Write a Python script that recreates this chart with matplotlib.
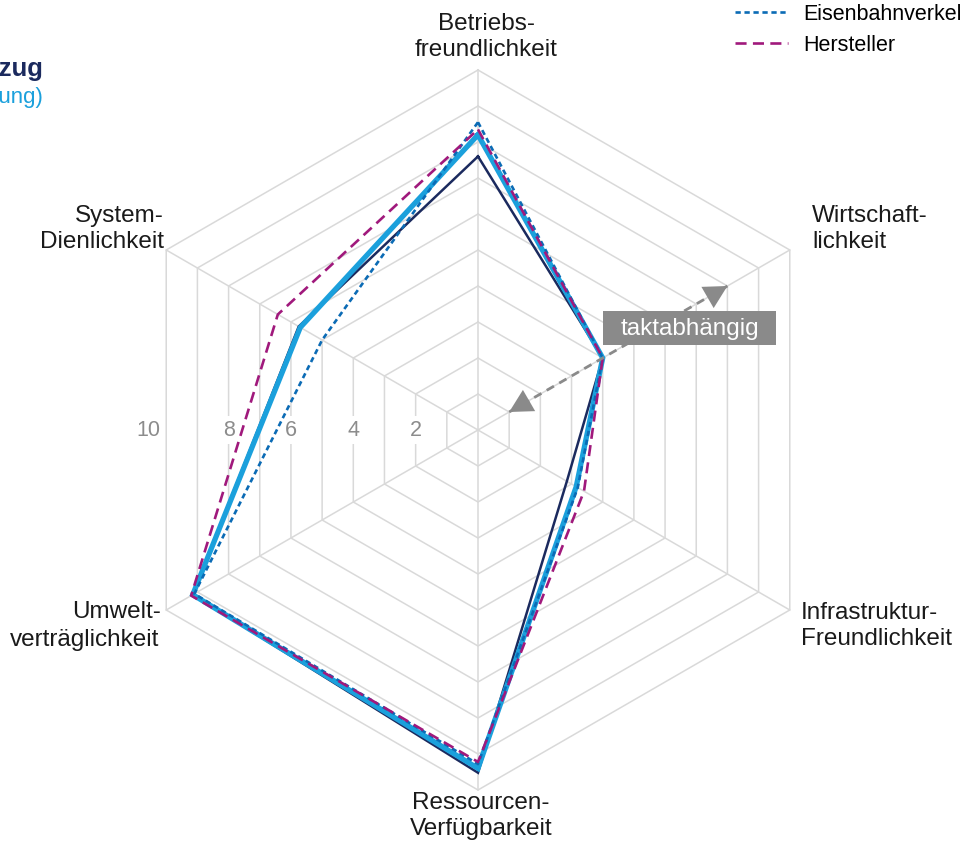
import numpy as np
import matplotlib
matplotlib.use("Agg")
import matplotlib.pyplot as plt
from matplotlib.lines import Line2D
from matplotlib.patches import Rectangle

plt.rcParams['font.family'] = ['Liberation Sans', 'DejaVu Sans']

# ---------------- data ----------------
categories = ["Betriebs-\nfreundlichkeit", "Wirtschaft-\nlichkeit",
              "Infrastruktur-\nFreundlichkeit", "Ressourcen-\nVerfügbarkeit",
              "Umwelt-\nverträglichkeit", "System-\nDienlichkeit"]
angles_deg = [90, 30, -30, -90, -150, 150]

gesamt_navy = [7.6, 4.0, 2.85, 9.52, 9.15, 5.75]
gesamt_cyan = [8.2, 4.0, 3.15, 9.4, 9.15, 5.7]
eisenbahn = [8.55, 4.0, 3.2, 9.28, 9.1, 5.0]
hersteller = [8.35, 4.0, 3.4, 9.22, 9.2, 6.42]

ring_values = [1, 2, 3, 4, 5, 6, 7, 8, 9, 10]
tick_values = [2, 4, 6, 8, 10]
tick_labels = ["2", "4", "6", "8", "10"]

legend_labels = ["Eisenbahnverkehrsunternehmen", "Hersteller"]
title_text = "Wasserstoffzug"
subtitle_text = "(Gesamtbewertung)"
arrow_label = "taktabhängig"
arrow_range = [1.0, 8.0]

# ---------------- layout ----------------
W, H = 960, 844
CX, CY = 478, 430          # centre in pixels (from top)
UNIT = 36.0                # pixels per value unit

fig = plt.figure(figsize=(W / 100, H / 100), dpi=100)
ax = fig.add_axes([0, 0, 1, 1])
ax.set_xlim(-CX / UNIT, (W - CX) / UNIT)
ax.set_ylim(-(H - CY) / UNIT, CY / UNIT)
ax.axis('off')


def px(x, y):
    """pixel (from top-left) -> data coords"""
    return (x - CX) / UNIT, (CY - y) / UNIT


theta = np.deg2rad(angles_deg)


def polar_xy(vals):
    v = np.asarray(vals, dtype=float)
    x = v * np.cos(theta)
    y = v * np.sin(theta)
    return np.append(x, x[0]), np.append(y, y[0])


grid_c = '#d9d9d9'
# rings
for r in ring_values:
    gx, gy = polar_xy([r] * len(theta))
    ax.plot(gx, gy, color=grid_c, lw=1.1, zorder=1)
# spokes
for t in theta:
    ax.plot([0, 10 * np.cos(t)], [0, 10 * np.sin(t)], color=grid_c, lw=1.1, zorder=1)

# tick labels along left horizontal
for v, lab in zip(tick_values, tick_labels):
    x = -v * np.cos(np.deg2rad(30))
    if v == 10:
        ax.text(x - 0.15, 0, lab, ha='right', va='center', fontsize=15.5,
                color='#8c8c8c', zorder=2,
                bbox=dict(boxstyle='square,pad=0.1', fc='white', ec='none'))
    else:
        ax.text(x, 0, lab, ha='center', va='center', fontsize=15.5,
                color='#8c8c8c', zorder=2,
                bbox=dict(boxstyle='square,pad=0.15', fc='white', ec='none'))

# series
navy_c = '#1b2a5e'
cyan_c = '#1ba0dc'
blue_c = '#0b6bb5'
purple_c = '#a0197c'

x, y = polar_xy(gesamt_navy)
ax.plot(x, y, color=navy_c, lw=1.8, zorder=3, solid_joinstyle='miter')
x, y = polar_xy(gesamt_cyan)
ax.plot(x, y, color=cyan_c, lw=3.8, zorder=4, solid_joinstyle='miter')
x, y = polar_xy(eisenbahn)
l_eis, = ax.plot(x, y, color=blue_c, lw=1.9, ls=(0, (2.0, 1.4)), zorder=5)
x, y = polar_xy(hersteller)
l_her, = ax.plot(x, y, color=purple_c, lw=1.9, ls=(0, (4.2, 2.4)), zorder=6)

# arrow annotation along "Wirtschaftlichkeit" axis
ta = np.deg2rad(30)
p0 = (arrow_range[0] * np.cos(ta), arrow_range[0] * np.sin(ta))
p1 = (arrow_range[1] * np.cos(ta), arrow_range[1] * np.sin(ta))
arrow_c = '#8a8a8a'
ax.plot([p0[0], p1[0]], [p0[1], p1[1]], color=arrow_c, lw=2, ls=(0, (3, 2.2)), zorder=7)
for a, b in [(p0, p1), (p1, p0)]:
    d = np.array(b) - np.array(a)
    d = d / np.linalg.norm(d)
    start = np.array(b) - d * 0.4
    ax.annotate('', xy=b, xytext=tuple(start),
                arrowprops=dict(arrowstyle='-|>,head_length=0.75,head_width=0.4',
                                color=arrow_c, lw=0.01, shrinkA=0, shrinkB=0,
                                mutation_scale=22), zorder=7)

bx0, by0 = px(603, 345)
bx1, by1 = px(776, 311)
ax.add_patch(Rectangle((bx0, by0), bx1 - bx0, by1 - by0, fc='#8a8a8a', ec='none', zorder=8))
tx, ty = px(689.5, 329)
ax.text(tx, ty, arrow_label, ha='center', va='center', fontsize=17.5, color='white', zorder=9)

# category labels
lab_fs = 17.5
ls_ = 1.22
x_, y_ = px(486, 37)
ax.text(x_, y_, categories[0], ha='center', va='center', fontsize=lab_fs,
        multialignment='center', linespacing=ls_, color='#1a1a1a')
x_, y_ = px(812, 229)
ax.text(x_, y_, categories[1], ha='left', va='center', fontsize=lab_fs,
        linespacing=ls_, color='#1a1a1a')
x_, y_ = px(801, 626)
ax.text(x_, y_, categories[2], ha='left', va='center', fontsize=lab_fs,
        linespacing=ls_, color='#1a1a1a')
x_, y_ = px(481, 816)
ax.text(x_, y_, categories[3], ha='center', va='center', fontsize=lab_fs,
        multialignment='center', linespacing=ls_, color='#1a1a1a')
um1, um2 = categories[4].split('\n')
x_, y_ = px(72, 612)
ax.text(x_, y_, um1, ha='left', va='center', fontsize=lab_fs, color='#1a1a1a')
x_, y_ = px(10, 640)
ax.text(x_, y_, um2, ha='left', va='center', fontsize=lab_fs, color='#1a1a1a')
x_, y_ = px(164, 229)
ax.text(x_, y_, categories[5], ha='right', va='center', fontsize=lab_fs,
        multialignment='right', linespacing=ls_, color='#1a1a1a')

# title (cut off at left edge)
x_, y_ = px(44, 69)
ax.text(x_, y_, title_text, ha='right', va='center', fontsize=18.5,
        fontweight='bold', color=navy_c)
x_, y_ = px(43, 97)
ax.text(x_, y_, subtitle_text, ha='right', va='center', fontsize=16, color=cyan_c)

# legend
fig.legend([l_eis, l_her], legend_labels, loc='upper left',
           bbox_to_anchor=(735 / W, 1 - 4 / H), frameon=False,
           borderpad=0, borderaxespad=0, handlelength=2.45, handletextpad=0.7,
           labelspacing=0.45, fontsize=15.5)

fig.savefig('out.png', dpi=100)
